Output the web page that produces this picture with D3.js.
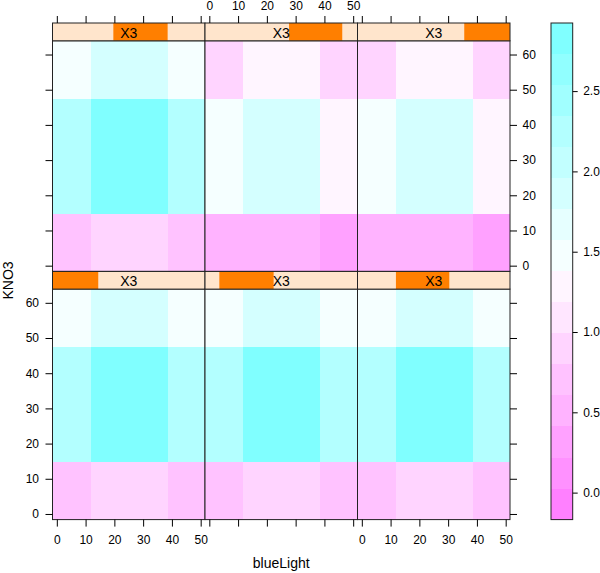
<!DOCTYPE html>
<html>
<head>
<meta charset="utf-8">
<script src="https://cdn.jsdelivr.net/npm/d3@7"></script>
<style>
  body { margin: 0; background: #fff; }
  text { font-family: "Liberation Sans", Arial, Helvetica, sans-serif; fill: #000; }
</style>
</head>
<body>
<div id="vis"></div>
<script>
const FRAME_WIDTH = 600;
const FRAME_HEIGHT = 573;

// ---- data ----
// cell edges of the level grid
const blueLightEdges = [-1.5, 11.8, 38.5, 51.5];
const kno3Edges = [-1.6, 14.8, 47.5, 63.9];
const blueLightTicks = [0, 10, 20, 30, 40, 50];
const kno3Ticks = [0, 10, 20, 30, 40, 50, 60];
const keyTicks = [0, 0.5, 1, 1.5, 2, 2.5];
const zRange = [-0.168, 2.924];
// X3 shingle intervals (fraction of X3 range), panel order = lattice order
const x3Range = [0, 1];
const x3Lower = [0.00, 0.094, 0.252, 0.399, 0.551, 0.70];
const x3Upper = [0.30, 0.450, 0.602, 0.755, 0.900, 1.00];
// z values, one matrix per panel: rows = KNO3 (low -> high), cols = blueLight
const zPanel1 = [[0.71, 0.90, 0.69], [2.26, 2.92, 2.24], [1.47, 1.86, 1.48]];
const zPanel2 = [[0.70, 0.91, 0.70], [2.25, 2.91, 2.25], [1.46, 1.87, 1.47]];
const zPanel3 = [[0.69, 0.89, 0.71], [2.24, 2.92, 2.26], [1.48, 1.85, 1.46]];
const zPanel4 = [[0.70, 0.90, 0.70], [2.25, 2.92, 2.25], [1.47, 1.86, 1.47]];
const zPanel5 = [[0.51, 0.52, 0.32], [1.47, 1.86, 1.28], [0.90, 1.28, 0.89]];
const zPanel6 = [[0.52, 0.51, 0.31], [1.48, 1.85, 1.29], [0.91, 1.27, 0.90]];
const zPanels = [zPanel1, zPanel2, zPanel3, zPanel4, zPanel5, zPanel6];

// ---- layout ----
const LEFT = 52.5;
const TOP = 23;
const PANEL_W = 152.5;
const PANEL_H = 230.5;
const STRIP_H = 17.8;
const KEY = {x: 551, w: 21.7, top: 23, bottom: 519.6};
const TICK_FONT = "12px";

// rev(cm.colors(100)) as lattice uses, 16 levels picked from it
function cmColor(i) {
  // i in 1..100 of cm.colors(100)
  if (i <= 50) {
    const s = 0.5 - (i - 1) * 0.01;
    const r = Math.floor(255 * (1 - s) + 0.5);
    return d3.rgb(r, 255, 255).formatHex();
  }
  const s = (i - 50) * 0.01;
  const g = Math.floor(255 * (1 - s) + 0.5);
  return d3.rgb(255, g, 255).formatHex();
}
const NLEV = 16;
const levelColors = d3.range(NLEV).map((k) => {
  const j = Math.round(1 + k * 99 / (NLEV - 1));
  return cmColor(101 - j);
});
const breaks = d3.range(NLEV + 1).map((k) => zRange[0] + k * (zRange[1] - zRange[0]) / NLEV);
const COLOR = d3.scaleThreshold().domain(breaks.slice(1, NLEV)).range(levelColors);

const svg = d3.select("#vis").append("svg")
  .attr("width", FRAME_WIDTH)
  .attr("height", FRAME_HEIGHT);

const X_BASE = d3.scaleLinear().domain([blueLightEdges[0], blueLightEdges[3]]).range([0, PANEL_W]);
const Y_BASE = d3.scaleLinear().domain([kno3Edges[0], kno3Edges[3]]).range([PANEL_H, 0]);

zPanels.forEach((z, i) => {
  const col = i % 3;
  const row = 1 - Math.floor(i / 3); // 0 = top
  const x0 = LEFT + col * PANEL_W;
  const stripTop = TOP + row * (STRIP_H + PANEL_H);
  const y0 = stripTop + STRIP_H;

  const g = svg.append("g").attr("transform", `translate(${x0},${y0})`);

  // cells
  for (let r = 0; r < 3; r++) {
    for (let c = 0; c < 3; c++) {
      g.append("rect")
        .attr("x", X_BASE(blueLightEdges[c]))
        .attr("y", Y_BASE(kno3Edges[r + 1]))
        .attr("width", X_BASE(blueLightEdges[c + 1]) - X_BASE(blueLightEdges[c]))
        .attr("height", Y_BASE(kno3Edges[r]) - Y_BASE(kno3Edges[r + 1]))
        .attr("fill", COLOR(z[r][c]))
        .attr("shape-rendering", "crispEdges");
    }
  }
  g.append("rect")
    .attr("width", PANEL_W).attr("height", PANEL_H)
    .attr("fill", "none").attr("stroke", "#222").attr("stroke-width", 1);

  // strip
  const sx = d3.scaleLinear().domain(x3Range).range([0, PANEL_W]);
  const s = svg.append("g").attr("transform", `translate(${x0},${stripTop})`);
  s.append("rect").attr("width", PANEL_W).attr("height", STRIP_H).attr("fill", "#ffe5cc");
  s.append("rect")
    .attr("x", sx(x3Lower[i]))
    .attr("width", sx(x3Upper[i]) - sx(x3Lower[i]))
    .attr("height", STRIP_H)
    .attr("fill", "#ff7f00");
  s.append("text")
    .attr("x", PANEL_W / 2).attr("y", 15.2)
    .attr("text-anchor", "middle")
    .attr("font-size", "14px")
    .text("X3");
  s.append("rect")
    .attr("width", PANEL_W).attr("height", STRIP_H)
    .attr("fill", "none").attr("stroke", "#222").attr("stroke-width", 1);

  // axes (alternating labels like lattice)
  const fmt = d3.format("d");
  if (row === 1) {
    svg.append("g")
      .attr("transform", `translate(${x0},${y0 + PANEL_H})`)
      .call(d3.axisBottom(X_BASE).tickValues(blueLightTicks).tickSize(7).tickSizeOuter(0)
        .tickPadding(8.5).tickFormat(col === 1 ? "" : fmt))
      .call((a) => a.select(".domain").remove());
  }
  if (row === 0) {
    svg.append("g")
      .attr("transform", `translate(${x0},${stripTop})`)
      .call(d3.axisTop(X_BASE).tickValues(blueLightTicks).tickSize(7).tickSizeOuter(0)
        .tickPadding(6).tickFormat(col === 1 ? fmt : ""))
      .call((a) => a.select(".domain").remove());
  }
  if (col === 0) {
    svg.append("g")
      .attr("transform", `translate(${x0},${y0})`)
      .call(d3.axisLeft(Y_BASE).tickValues(kno3Ticks).tickSize(7).tickSizeOuter(0)
        .tickPadding(6.5).tickFormat(row === 1 ? fmt : ""))
      .call((a) => a.select(".domain").remove());
  }
  if (col === 2) {
    svg.append("g")
      .attr("transform", `translate(${x0 + PANEL_W},${y0})`)
      .call(d3.axisRight(Y_BASE).tickValues(kno3Ticks).tickSize(7).tickSizeOuter(0)
        .tickPadding(5.5).tickFormat(row === 0 ? fmt : ""))
      .call((a) => a.select(".domain").remove());
  }
});

svg.selectAll(".tick text")
  .attr("font-size", TICK_FONT)
  .attr("font-family", "'Liberation Sans', Arial, Helvetica, sans-serif");
svg.selectAll(".tick line").attr("stroke", "#000");

// colour key
const KEY_SCALE = d3.scaleLinear().domain(zRange).range([KEY.bottom, KEY.top]);
const key = svg.append("g");
key.selectAll("rect.band")
  .data(d3.range(NLEV))
  .enter()
  .append("rect")
    .attr("class", "band")
    .attr("x", KEY.x)
    .attr("y", (k) => KEY_SCALE(breaks[k + 1]))
    .attr("width", KEY.w)
    .attr("height", (k) => KEY_SCALE(breaks[k]) - KEY_SCALE(breaks[k + 1]))
    .attr("fill", (k) => levelColors[k])
    .attr("shape-rendering", "crispEdges");
key.append("rect")
  .attr("x", KEY.x).attr("y", KEY.top)
  .attr("width", KEY.w).attr("height", KEY.bottom - KEY.top)
  .attr("fill", "none").attr("stroke", "#222");
const keyAxis = svg.append("g")
  .attr("transform", `translate(${KEY.x + KEY.w},0)`)
  .call(d3.axisRight(KEY_SCALE).tickValues(keyTicks).tickSize(5).tickSizeOuter(0)
    .tickPadding(5.5).tickFormat(d3.format(".1f")));
keyAxis.select(".domain").remove();
keyAxis.selectAll("text").attr("font-size", TICK_FONT)
  .attr("font-family", "'Liberation Sans', Arial, Helvetica, sans-serif");

// axis titles
svg.append("text")
  .attr("x", LEFT + 1.5 * PANEL_W).attr("y", 568)
  .attr("text-anchor", "middle")
  .attr("font-size", "14px")
  .text("blueLight");
svg.append("text")
  .attr("transform", "translate(13.3,280.5) rotate(-90)")
  .attr("text-anchor", "middle")
  .attr("font-size", "14px")
  .text("KNO3");
</script>
</body>
</html>
